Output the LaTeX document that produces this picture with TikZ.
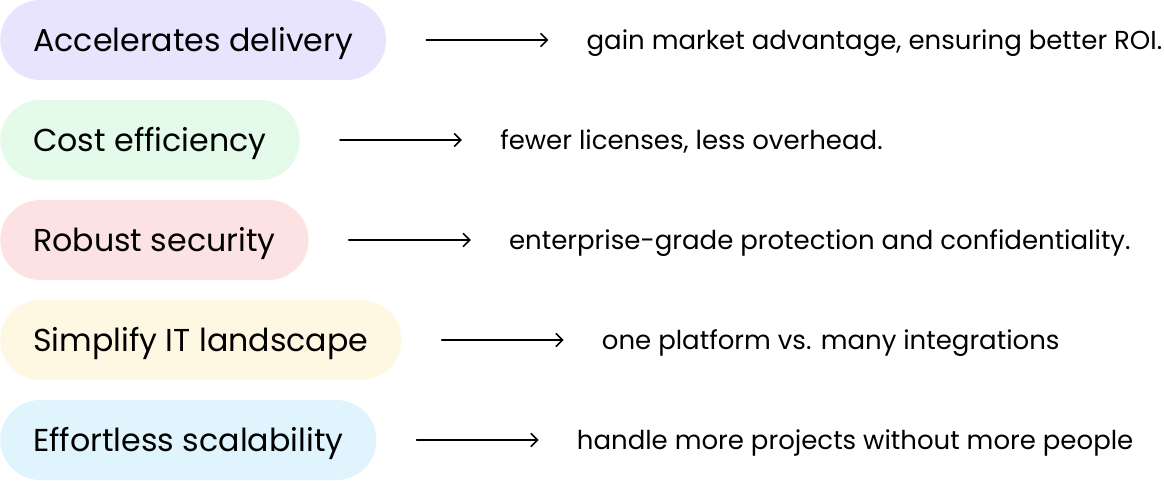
\documentclass[tikz,border=0pt]{standalone}
\usepackage{fontspec}
\setmainfont{Poppins}
\usetikzlibrary{arrows.meta,positioning}
\definecolor{lilac}{HTML}{E9E4FD}
\definecolor{mint}{HTML}{E3FBE8}
\definecolor{blush}{HTML}{FDE2E3}
\definecolor{cream}{HTML}{FEF7E2}
\definecolor{sky}{HTML}{E0F4FD}
\begin{document}
\begin{tikzpicture}[>={Straight Barb[length=5pt,width=10pt]},line cap=round,
  pill/.style={rounded corners=30pt,minimum height=60pt,inner xsep=24.75pt,text height=16.6pt,text depth=0pt,anchor=west,font=\fontsize{23.75}{28}\selectfont},
  gain/.style={inner sep=0pt,text height=13.6pt,text depth=0pt,right=150pt of #1,font=\fontsize{19.5}{23}\selectfont},
  link/.style={->,line width=1.2pt}]
\useasboundingbox (0,0) rectangle (873pt,-360pt);
\node[pill,fill=lilac] (accel) at (0,-30pt) {Accelerates delivery};
\node[gain=accel] (accelnote) {gain market advantage, ensuring better ROI.};
\draw[link] ([xshift=30pt]accel.east) -- ([xshift=-28.5pt]accelnote.west);
\node[pill,fill=mint] (cost) at (0,-105pt) {Cost efficiency};
\node[gain=cost] (costnote) {fewer licenses, less overhead.};
\draw[link] ([xshift=30pt]cost.east) -- ([xshift=-28.5pt]costnote.west);
\node[pill,fill=blush] (secure) at (0,-180pt) {Robust security};
\node[gain=secure] (securenote) {enterprise-grade protection and confidentiality.};
\draw[link] ([xshift=30pt]secure.east) -- ([xshift=-28.5pt]securenote.west);
\node[pill,fill=cream] (simple) at (0,-255pt) {Simplify IT landscape};
\node[gain=simple] (simplenote) {one platform vs. many integrations};
\draw[link] ([xshift=30pt]simple.east) -- ([xshift=-28.5pt]simplenote.west);
\node[pill,fill=sky] (scale) at (0,-330pt) {Effortless scalability};
\node[gain=scale] (scalenote) {handle more projects without more people};
\draw[link] ([xshift=30pt]scale.east) -- ([xshift=-28.5pt]scalenote.west);
\end{tikzpicture}
\end{document}
